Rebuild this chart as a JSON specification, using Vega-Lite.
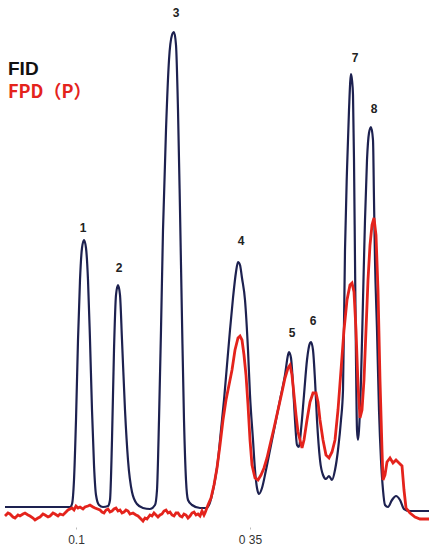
{
  "$schema": "https://vega.github.io/schema/vega-lite/v6.json",
  "width": 429,
  "height": 527,
  "autosize": {"type": "none"},
  "padding": {"left": 0, "right": 0, "top": 0, "bottom": 22},
  "background": "white",
  "config": {"view": {"stroke": null}, "font": "Liberation Sans"},
  "datasets": {
    "fid": [
      {"t":5,"v":20},{"t":40,"v":20},{"t":70,"v":20},{"t":72,"v":23},{"t":74,"v":47},{"t":76,"v":107},{"t":78,"v":187},{"t":80,"v":247},{"t":82,"v":279},{"t":84,"v":287},{"t":86,"v":279},{"t":88,"v":247},{"t":90,"v":187},{"t":92,"v":117},{"t":94,"v":62},{"t":96,"v":32},{"t":99,"v":22},{"t":103,"v":20},{"t":108,"v":21},{"t":110,"v":27},{"t":112,"v":87},{"t":114,"v":177},{"t":116,"v":232},{"t":118,"v":242},{"t":120,"v":232},{"t":122,"v":187},{"t":125,"v":117},{"t":128,"v":67},{"t":132,"v":35},{"t":137,"v":23},{"t":143,"v":19},{"t":150,"v":18},{"t":155,"v":22},{"t":157,"v":37},{"t":159,"v":107},{"t":161,"v":197},{"t":163,"v":297},{"t":166,"v":397},{"t":169,"v":467},{"t":172,"v":492},{"t":174,"v":495},{"t":176,"v":482},{"t":178,"v":417},{"t":180,"v":317},{"t":182,"v":207},{"t":184,"v":107},{"t":186,"v":47},{"t":188,"v":27},{"t":192,"v":22},{"t":200,"v":19},{"t":206,"v":19},{"t":209,"v":22},{"t":212,"v":32},{"t":215,"v":47},{"t":218,"v":67},{"t":221,"v":97},{"t":224,"v":127},{"t":227,"v":162},{"t":230,"v":197},{"t":233,"v":229},{"t":236,"v":255},{"t":238,"v":265},{"t":240,"v":262},{"t":242,"v":249},{"t":245,"v":227},{"t":248,"v":177},{"t":250,"v":132},{"t":253,"v":87},{"t":255,"v":57},{"t":257,"v":39},{"t":259,"v":33},{"t":262,"v":39},{"t":266,"v":57},{"t":270,"v":77},{"t":275,"v":102},{"t":280,"v":127},{"t":285,"v":152},{"t":288,"v":172},{"t":289,"v":175},{"t":291,"v":169},{"t":293,"v":142},{"t":295,"v":107},{"t":297,"v":82},{"t":299,"v":80},{"t":301,"v":97},{"t":304,"v":132},{"t":307,"v":167},{"t":310,"v":184},{"t":311,"v":185},{"t":313,"v":177},{"t":315,"v":147},{"t":317,"v":107},{"t":320,"v":67},{"t":323,"v":52},{"t":326,"v":48},{"t":329,"v":51},{"t":332,"v":47},{"t":335,"v":57},{"t":338,"v":77},{"t":341,"v":107},{"t":343,"v":137},{"t":345,"v":277},{"t":347,"v":357},{"t":349,"v":417},{"t":351,"v":453},{"t":352,"v":447},{"t":353,"v":432},{"t":354,"v":367},{"t":355,"v":267},{"t":356,"v":167},{"t":357,"v":97},{"t":358,"v":87},{"t":359,"v":97},{"t":361,"v":147},{"t":363,"v":227},{"t":365,"v":307},{"t":367,"v":367},{"t":369,"v":394},{"t":371,"v":400},{"t":373,"v":387},{"t":374,"v":327},{"t":375,"v":267},{"t":377,"v":197},{"t":379,"v":117},{"t":381,"v":67},{"t":383,"v":37},{"t":385,"v":22},{"t":388,"v":20},{"t":392,"v":27},{"t":396,"v":31},{"t":400,"v":27},{"t":404,"v":18},{"t":410,"v":16},{"t":429,"v":16}
    ],
    "fpd": [
      {"t":5,"v":11},{"t":8,"v":14},{"t":10,"v":13},{"t":13,"v":10},{"t":15,"v":9},{"t":18,"v":12},{"t":20,"v":11},{"t":23,"v":13},{"t":25,"v":14},{"t":28,"v":12},{"t":30,"v":11},{"t":33,"v":9},{"t":35,"v":7},{"t":38,"v":9},{"t":40,"v":10},{"t":43,"v":13},{"t":45,"v":12},{"t":48,"v":10},{"t":50,"v":11},{"t":53,"v":14},{"t":55,"v":13},{"t":58,"v":11},{"t":60,"v":13},{"t":63,"v":12},{"t":65,"v":14},{"t":68,"v":17},{"t":72,"v":19},{"t":74,"v":17},{"t":76,"v":21},{"t":78,"v":19},{"t":80,"v":20},{"t":83,"v":18},{"t":85,"v":20},{"t":88,"v":21},{"t":90,"v":22},{"t":93,"v":20},{"t":95,"v":19},{"t":100,"v":17},{"t":102,"v":15},{"t":104,"v":14},{"t":106,"v":17},{"t":108,"v":18},{"t":110,"v":15},{"t":112,"v":16},{"t":114,"v":18},{"t":116,"v":19},{"t":118,"v":16},{"t":120,"v":17},{"t":122,"v":14},{"t":124,"v":15},{"t":126,"v":17},{"t":128,"v":16},{"t":130,"v":13},{"t":133,"v":14},{"t":136,"v":12},{"t":138,"v":11},{"t":141,"v":8},{"t":143,"v":6},{"t":145,"v":9},{"t":147,"v":8},{"t":150,"v":12},{"t":152,"v":11},{"t":154,"v":14},{"t":156,"v":12},{"t":158,"v":10},{"t":160,"v":12},{"t":162,"v":13},{"t":164,"v":16},{"t":166,"v":17},{"t":168,"v":14},{"t":170,"v":15},{"t":172,"v":12},{"t":174,"v":11},{"t":176,"v":14},{"t":178,"v":14},{"t":180,"v":11},{"t":182,"v":10},{"t":184,"v":13},{"t":186,"v":12},{"t":188,"v":9},{"t":190,"v":11},{"t":192,"v":14},{"t":194,"v":15},{"t":196,"v":12},{"t":198,"v":13},{"t":200,"v":11},{"t":202,"v":16},{"t":204,"v":12},{"t":205,"v":14},{"t":208,"v":22},{"t":211,"v":29},{"t":214,"v":42},{"t":217,"v":59},{"t":220,"v":82},{"t":223,"v":107},{"t":226,"v":127},{"t":229,"v":142},{"t":232,"v":157},{"t":235,"v":177},{"t":238,"v":189},{"t":240,"v":191},{"t":242,"v":187},{"t":244,"v":172},{"t":246,"v":152},{"t":248,"v":122},{"t":250,"v":87},{"t":252,"v":62},{"t":255,"v":49},{"t":258,"v":47},{"t":261,"v":52},{"t":264,"v":59},{"t":267,"v":69},{"t":270,"v":82},{"t":274,"v":99},{"t":278,"v":117},{"t":282,"v":135},{"t":285,"v":149},{"t":288,"v":159},{"t":290,"v":162},{"t":292,"v":152},{"t":294,"v":132},{"t":296,"v":112},{"t":298,"v":95},{"t":300,"v":87},{"t":302,"v":79},{"t":304,"v":87},{"t":307,"v":107},{"t":310,"v":125},{"t":313,"v":134},{"t":316,"v":134},{"t":318,"v":125},{"t":320,"v":107},{"t":323,"v":87},{"t":326,"v":72},{"t":329,"v":69},{"t":332,"v":75},{"t":335,"v":87},{"t":338,"v":117},{"t":341,"v":157},{"t":344,"v":197},{"t":347,"v":227},{"t":350,"v":242},{"t":352,"v":244},{"t":354,"v":235},{"t":356,"v":197},{"t":358,"v":142},{"t":360,"v":109},{"t":362,"v":117},{"t":364,"v":147},{"t":366,"v":197},{"t":368,"v":247},{"t":370,"v":282},{"t":372,"v":302},{"t":374,"v":309},{"t":376,"v":292},{"t":378,"v":237},{"t":380,"v":147},{"t":382,"v":77},{"t":383,"v":47},{"t":385,"v":52},{"t":387,"v":65},{"t":390,"v":69},{"t":393,"v":64},{"t":396,"v":67},{"t":399,"v":64},{"t":402,"v":61},{"t":404,"v":37},{"t":406,"v":19},{"t":410,"v":14},{"t":415,"v":10},{"t":420,"v":8},{"t":429,"v":8}
    ],
    "peaks": [
      {"peak":"1","t":83,"v":295},
      {"peak":"2","t":119,"v":255},
      {"peak":"3","t":176,"v":510},
      {"peak":"4","t":241,"v":282},
      {"peak":"5","t":292,"v":190},
      {"peak":"6","t":313,"v":202},
      {"peak":"7","t":355,"v":465},
      {"peak":"8","t":374,"v":414}
    ]
  },
  "layer": [
    {
      "data": {"name": "fid"},
      "mark": {"type": "line", "color": "#1d2150", "strokeWidth": 2.2, "interpolate": "monotone"},
      "encoding": {
        "x": {"field": "t", "type": "quantitative", "scale": {"domain": [0, 429], "nice": false, "zero": false},
              "axis": {"values": [76, 250], "labelExpr": "datum.value < 100 ? '0.1' : '0 35'", "domain": false, "grid": false, "tickSize": 2, "tickColor": "#bbbbbb", "labelFontSize": 12, "labelColor": "#333333", "labelPadding": 5, "title": null, "labelFont": "Liberation Sans"}},
        "y": {"field": "v", "type": "quantitative", "scale": {"domain": [0, 527], "nice": false}, "axis": null}
      }
    },
    {
      "data": {"name": "fpd"},
      "mark": {"type": "line", "color": "#e4231c", "strokeWidth": 2.8, "interpolate": "linear"},
      "encoding": {
        "x": {"field": "t", "type": "quantitative"},
        "y": {"field": "v", "type": "quantitative"}
      }
    },
    {
      "data": {"name": "peaks"},
      "mark": {"type": "text", "color": "#222222", "fontSize": 12, "fontWeight": "bold", "align": "center", "baseline": "alphabetic"},
      "encoding": {
        "x": {"field": "t", "type": "quantitative"},
        "y": {"field": "v", "type": "quantitative"},
        "text": {"field": "peak"}
      }
    },
    {
      "data": {"values": [{"label": "FID"}]},
      "mark": {"type": "text", "color": "#111111", "fontSize": 19, "fontWeight": "bold", "align": "left", "baseline": "alphabetic", "font": "Liberation Sans"},
      "encoding": {
        "x": {"datum": 8, "type": "quantitative"},
        "y": {"datum": 452, "type": "quantitative"},
        "text": {"field": "label"}
      }
    },
    {
      "data": {"values": [{"label": "FPD（P）"}]},
      "mark": {"type": "text", "color": "#e4231c", "fontSize": 18, "fontWeight": "bold", "align": "left", "baseline": "alphabetic", "font": "Noto Sans CJK JP"},
      "encoding": {
        "x": {"datum": 8, "type": "quantitative"},
        "y": {"datum": 429, "type": "quantitative"},
        "text": {"field": "label"}
      }
    }
  ]
}
